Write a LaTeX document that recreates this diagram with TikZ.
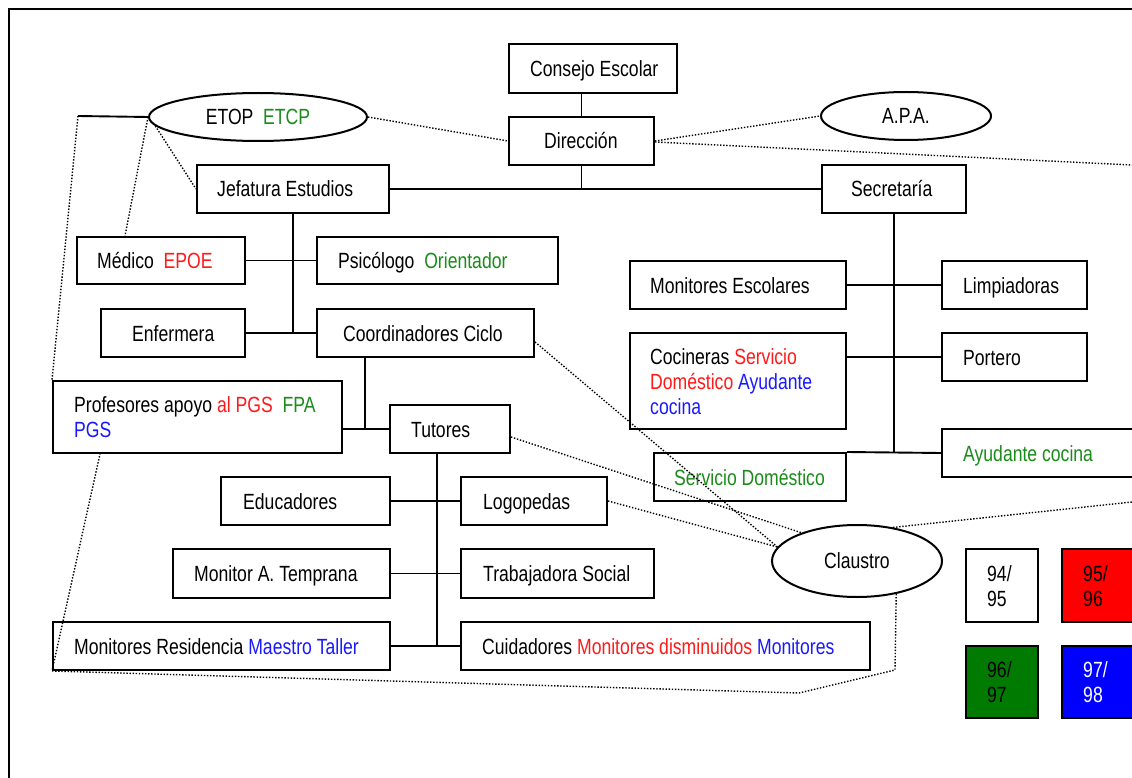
\documentclass[tikz,border=0pt]{standalone}
\usepackage{fontspec}
\setmainfont[FakeStretch=0.8]{Liberation Sans}
\usetikzlibrary{shapes.geometric,calc}
\definecolor{tred}{RGB}{255,25,25}
\definecolor{tgreen}{RGB}{25,140,25}
\definecolor{tblue}{RGB}{25,25,255}
\definecolor{fred}{RGB}{255,0,0}
\definecolor{fgreen}{RGB}{0,122,0}
\definecolor{fblue}{RGB}{0,0,255}
\newcommand\cred[1]{\textcolor{tred}{#1}}
\newcommand\cgreen[1]{\textcolor{tgreen}{#1}}
\newcommand\cblue[1]{\textcolor{tblue}{#1}}
% #1 name, #2 x1, #3 y1, #4 x2, #5 y2, #6 text x, #7 extra style, #8 text
\newcommand\orgbox[8]{%
  \node[obox,#7,minimum width={(#4)-(#2)},minimum height={(#5)-(#3)}] (#1) at ({((#2)+(#4))/2},{((#3)+(#5))/2}) {};
  \node[olabel] (#1-t) at (#6,{((#3)+(#5))/2+3}) {#8};
}
\begin{document}
\begin{tikzpicture}[x=1pt,y=-1pt,
  obox/.style={draw=black,line width=2pt,rectangle,inner sep=0pt},
  olabel/.style={anchor=west,inner sep=0pt,align=left,font=\fontsize{22}{25}\selectfont},
  oell/.style={draw=black,line width=2pt,ellipse,inner sep=0pt,font=\fontsize{22}{25}\selectfont},
  link/.style={line width=1.9pt},
  dotlink/.style={line width=1.4pt,dash pattern=on 1.4pt off 1.7pt}]
\fill[white] (0,0) rectangle (1132,778);
\clip (0,0) rectangle (1132,778);
% frame
\draw[line width=2pt] (1150,9.5) -- (9,9.5) -- (9,800);

% boxes
\orgbox{consejo}{509}{44}{677}{93}{530}{}{\strut Consejo Escolar}
\orgbox{direccion}{509}{117}{654}{165}{544}{}{\strut Dirección}
\orgbox{jefatura}{197}{165}{389}{213}{217}{}{\strut Jefatura Estudios}
\orgbox{secretaria}{822}{165}{966}{213}{851}{}{\strut Secretaría}
\orgbox{medico}{77}{237}{245}{284}{97}{}{\strut Médico~~\cred{EPOE}}
\orgbox{psicologo}{317}{237}{558}{284}{338}{}{\strut Psicólogo~~\cgreen{Orientador}}
\orgbox{enfermera}{101}{309}{245}{357}{132}{}{\strut Enfermera}
\orgbox{coordinadores}{317}{309}{534}{357}{343}{}{\strut Coordinadores Ciclo}
\orgbox{profesores}{53}{381}{342}{453}{74}{}{\strut Profesores apoyo \cred{al PGS}~~\cgreen{FPA}\\\strut\cblue{PGS}}
\orgbox{tutores}{390}{405}{510}{453}{411}{}{\strut Tutores}
\orgbox{educadores}{221}{477}{390}{525}{243}{}{\strut Educadores}
\orgbox{logopedas}{461}{477}{607}{525}{483}{}{\strut Logopedas}
\orgbox{monitorAT}{173}{549}{390}{598}{194}{}{\strut Monitor A. Temprana}
\orgbox{trabajadora}{461}{549}{654}{598}{483}{}{\strut Trabajadora Social}
\orgbox{monitoresRes}{53}{622}{390}{670}{74}{}{\strut Monitores Residencia \cblue{Maestro Taller}}
\orgbox{cuidadores}{461}{622}{870}{670}{482}{}{\strut Cuidadores \cred{Monitores disminuidos} \cblue{Monitores}}
\orgbox{monEsc}{630}{261}{846}{309}{650}{}{\strut Monitores Escolares}
\orgbox{limpiadoras}{942}{261}{1087}{309}{963}{}{\strut Limpiadoras}
\orgbox{cocineras}{630}{333}{846}{429}{650}{}{\strut Cocineras \cred{Servicio}\\\strut\cred{Doméstico} \cblue{Ayudante}\\\strut\cblue{cocina}}
\orgbox{portero}{942}{333}{1087}{381}{963}{}{\strut Portero}
\orgbox{servicio}{654}{453}{846}{501}{674}{}{\strut\cgreen{Servicio Doméstico}}
\orgbox{ayudante}{942}{429}{1170}{477}{963}{}{\strut\cgreen{Ayudante cocina}}
\orgbox{y9495}{966}{549}{1038}{622}{987}{}{\strut 94/\\\strut 95}
\orgbox{y9596}{1062}{549}{1170}{622}{1083}{fill=fred}{\strut 95/\\\strut 96}
\orgbox{y9697}{966}{646}{1038}{718}{987}{fill=fgreen}{\strut 96/\\\strut 97}
\orgbox{y9798}{1062}{646}{1170}{718}{1083}{fill=fblue}{\strut\textcolor{white}{97/}\\\strut\textcolor{white}{98}}

% ellipses
\node[oell,minimum width=218pt,minimum height=48pt] (etop) at (258,117) {ETOP~~\cgreen{ETCP}};
\node[oell,minimum width=170pt,minimum height=48pt] (apa) at (906,116) {A.P.A.};
\node[oell,minimum width=170pt,minimum height=72pt] (claustro) at (857,561) {Claustro};

% free ends
\coordinate (etopL) at (78,116);
\coordinate (rightA) at (1132,165);
\coordinate (rightB) at (1132,502);
\coordinate (c1) at (895,670);
\coordinate (c2) at (799,693);

% solid connectors
\draw[link] (direccion.north) -- (direccion.north |- consejo.south);
\draw[link] (direccion.south) -- (direccion.south |- jefatura.east);
\draw[link] (jefatura.east) -- (secretaria.west);
\draw[link] (jefatura.south) -- (jefatura.south |- enfermera.east);
\draw[link] (medico.east) -- (psicologo.west);
\draw[link] (enfermera.east) -- (coordinadores.west);
\draw[link] ($(coordinadores.south west)+(49,0)$) |- (tutores.west);
\draw[link] (profesores.east |- tutores.west) -- (tutores.west);
\draw[link] ($(tutores.south west)+(48,0)$) |- (monitoresRes.east);
\draw[link] (educadores.east) -- (logopedas.west);
\draw[link] (monitorAT.east) -- (trabajadora.west);
\draw[link] (monitoresRes.east) -- (cuidadores.west);
\draw[link] (secretaria.south) -- (secretaria.south |- ayudante.west);
\draw[link] (monEsc.east) -- (limpiadoras.west);
\draw[link] (cocineras.east |- portero.west) -- (portero.west);
\draw[link] (servicio.north east) -- (ayudante.west);
\draw[link] (etop.west) -- (etopL);

% dotted connectors
\draw[dotlink] (etopL) -- (profesores.north west);
\draw[dotlink] (etop.west) -- ($(medico.north west)+(49,0)$);
\draw[dotlink] (etop.185) -- (jefatura.west);
\draw[dotlink] (etop.east) -- (direccion.west);
\draw[dotlink] (direccion.east) -- (apa.west);
\draw[dotlink] ([yshift=-1pt]direccion.east) -- (rightA);
\draw[dotlink] ([yshift=-9pt]coordinadores.east) -- (claustro.170);
\draw[dotlink] (logopedas.east) -- (claustro.170);
\draw[dotlink] ([yshift=-8pt]tutores.east) -- (claustro.153);
\draw[dotlink] (claustro.43) -- (rightB);
\draw[dotlink] (claustro.-40) -- (c1) -- (c2) -- (monitoresRes.south west) -- ($(profesores.south west)+(48,0)$);
\end{tikzpicture}
\end{document}
